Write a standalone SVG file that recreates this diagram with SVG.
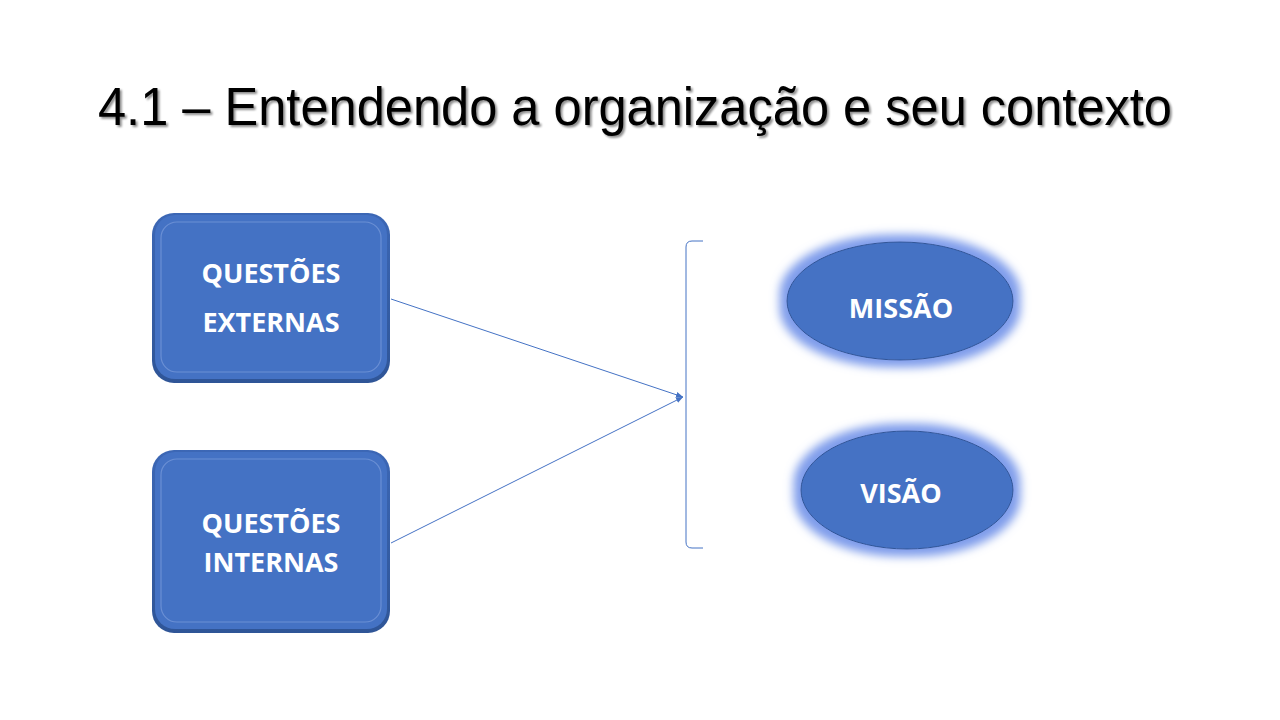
<svg xmlns="http://www.w3.org/2000/svg" width="1280" height="720" viewBox="0 0 1280 720">
<defs>
<style>
.title{font-family:"Liberation Sans",Arial,sans-serif;font-size:53px;fill:#000}
.lbl{font-family:"Open Sans","Liberation Sans",sans-serif;font-weight:bold;font-size:27px;fill:#fff;text-anchor:middle}
.conn{stroke:#4472C4;stroke-width:1;fill:none}
</style>
<filter id="tshadow" x="-5%" y="-20%" width="110%" height="150%">
<feGaussianBlur in="SourceAlpha" stdDeviation="1.2"/>
<feOffset dx="2" dy="2" result="o"/>
<feComponentTransfer><feFuncA type="linear" slope="0.45"/></feComponentTransfer>
<feMerge><feMergeNode/><feMergeNode in="SourceGraphic"/></feMerge>
</filter>
<filter id="glow" x="-30%" y="-30%" width="160%" height="160%">
<feMorphology in="SourceAlpha" operator="dilate" radius="7" result="d"/>
<feGaussianBlur in="d" stdDeviation="5" result="b"/>
<feFlood flood-color="#7E9CEB" flood-opacity="1"/>
<feComposite in2="b" operator="in" result="g"/>
<feMerge><feMergeNode in="g"/><feMergeNode in="SourceGraphic"/></feMerge>
</filter>
<linearGradient id="edge" x1="0" y1="0" x2="0" y2="1">
<stop offset="0" stop-color="#3C67B5"/>
<stop offset="1" stop-color="#2F5597"/>
</linearGradient>
<marker id="arr" markerWidth="8" markerHeight="8" refX="7" refY="4" orient="auto" markerUnits="userSpaceOnUse">
<path d="M0,1 L7,4 L0,7 Z" fill="#4472C4"/>
</marker>
</defs>
<rect width="1280" height="720" fill="#fff"/>
<text class="title" x="98" y="125" textLength="1074" lengthAdjust="spacingAndGlyphs" filter="url(#tshadow)">4.1 – Entendendo a organização e seu contexto</text>

<g id="connectors">
<line class="conn" x1="391" y1="299" x2="683" y2="397" marker-end="url(#arr)"/>
<line class="conn" x1="391" y1="543" x2="683" y2="397" marker-end="url(#arr)"/>
<path class="conn" d="M703,241 L692,241 Q686,241 686,247 L686,542 Q686,548 692,548 L703,548"/>
</g>

<g id="node-externas">
<rect x="152" y="213" width="238" height="170" rx="22" fill="url(#edge)"/>
<rect x="155" y="215" width="232" height="164" rx="20" fill="#4472C4"/>
<rect x="161" y="222" width="220" height="150" rx="16" fill="none" stroke="#6A8FD4" stroke-width="1.2"/>
<text class="lbl" x="271" y="283">QUESTÕES</text>
<text class="lbl" x="271" y="332">EXTERNAS</text>
</g>

<g id="node-internas">
<rect x="152" y="450" width="238" height="183" rx="22" fill="url(#edge)"/>
<rect x="155" y="452" width="232" height="177" rx="20" fill="#4472C4"/>
<rect x="161" y="459" width="220" height="163" rx="16" fill="none" stroke="#6A8FD4" stroke-width="1.2"/>
<text class="lbl" x="271" y="533">QUESTÕES</text>
<text class="lbl" x="271" y="572">INTERNAS</text>
</g>

<g id="node-missao">
<ellipse cx="900" cy="301" rx="113" ry="59" fill="#4472C4" stroke="#2F5597" stroke-width="1" filter="url(#glow)"/>
<text class="lbl" x="901" y="318">MISSÃO</text>
</g>

<g id="node-visao">
<ellipse cx="907" cy="490" rx="106" ry="59" fill="#4472C4" stroke="#2F5597" stroke-width="1" filter="url(#glow)"/>
<text class="lbl" x="901" y="503">VISÃO</text>
</g>
</svg>
